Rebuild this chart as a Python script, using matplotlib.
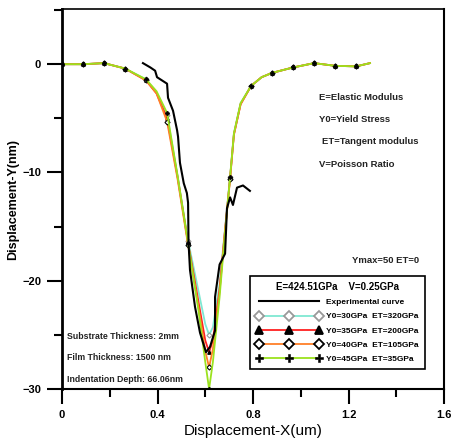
import matplotlib
matplotlib.use("Agg")
import matplotlib.pyplot as plt
from matplotlib.lines import Line2D
from matplotlib.ticker import MultipleLocator

plt.rcParams['font.family'] = ['Liberation Sans', 'DejaVu Sans']

# simulated curves (shared x grid)
x_sim = [0, 0.088, 0.176, 0.264, 0.352, 0.396, 0.44, 0.484, 0.528, 0.572, 0.60,
         0.616, 0.632, 0.66, 0.68, 0.704, 0.72, 0.748, 0.792, 0.836, 0.88, 0.968,
         1.056, 1.144, 1.232, 1.29]
y_cyan = [0, 0, 0.1, -0.4, -1.4, -2.6, -4.7, -10.3, -16.3, -21.0, -24.0, -25.0,
          -24.3, -20.3, -15.8, -10.4, -6.4, -3.6, -2.0, -1.2, -0.8, -0.3, 0.1,
          -0.15, -0.2, 0.1]
y_red = [0, 0, 0.1, -0.4, -1.5, -2.7, -5.0, -10.4, -16.5, -22.0, -25.5, -26.6,
         -25.5, -20.8, -16.0, -10.5, -6.5, -3.7, -2.0, -1.2, -0.8, -0.3, 0.1,
         -0.15, -0.2, 0.1]
y_orange = [0, 0, 0.1, -0.4, -1.5, -2.7, -5.3, -10.6, -16.7, -22.5, -26.5, -28.0,
            -26.3, -21.0, -16.0, -10.6, -6.5, -3.7, -2.0, -1.2, -0.8, -0.3, 0.1,
            -0.15, -0.2, 0.1]
y_green = [0, 0, 0.1, -0.4, -1.4, -2.5, -4.5, -10.3, -16.5, -22.8, -27.5, -30.0,
           -27.5, -21.5, -16.3, -10.4, -6.4, -3.6, -2.0, -1.2, -0.8, -0.3, 0.1,
           -0.15, -0.2, 0.1]
mark_idx = [0, 1, 2, 3, 4, 6, 8, 11, 15, 18, 20, 21, 22, 23, 24]

# experimental curve
x_exp = [0.339, 0.37, 0.390, 0.398, 0.440, 0.444, 0.465, 0.482, 0.486, 0.494,
         0.51, 0.523, 0.528, 0.530, 0.536, 0.557, 0.578, 0.603, 0.620, 0.641,
         0.641, 0.66, 0.683, 0.691, 0.704, 0.716, 0.733, 0.758, 0.787]
y_exp = [0.1, -0.3, -0.6, -1.2, -1.8, -3.1, -4.3, -6.1, -6.7, -9.1,
         -11.0, -11.9, -12.8, -16.5, -19.0, -22.4, -24.8, -26.6, -26.1, -24.6,
         -21.5, -18.5, -17.5, -13.3, -12.3, -13.0, -11.4, -11.2, -11.7]

series = [
    (y_cyan, '#7fe8d2', 'D', 'white', '#999999', 'Y0=30GPa  ET=320GPa'),
    (y_red, '#ff2020', '^', 'black', 'black', 'Y0=35GPa  ET=200GPa'),
    (y_orange, '#ff7f27', 'D', 'white', 'black', 'Y0=40GPa  ET=105GPa'),
    (y_green, '#9be21e', 'P', 'black', 'black', 'Y0=45GPa  ET=35GPa'),
]

fig = plt.figure(figsize=(4.51, 4.45), dpi=100)
ax = fig.add_axes([0.1375, 0.1258, 0.847, 0.854])

handles = [Line2D([], [], color='black', lw=1.5)]
labels = ['Experimental curve']
for ys, col, mk, fc, ec, lab in series:
    ax.plot(x_sim, ys, color=col, lw=1.3, marker=mk, markersize=2.6,
            markerfacecolor=fc, markeredgecolor=ec, markeredgewidth=0.8,
            markevery=mark_idx)
    handles.append(Line2D([], [], color=col, lw=1.3, marker=mk, markersize=5.5,
                          markerfacecolor=fc, markeredgecolor=ec,
                          markeredgewidth=1.3 if mk != 'P' else 0.4))
    labels.append(lab)

ax.plot(x_exp, y_exp, color='black', lw=1.5)

ax.set_xlim(0, 1.6)
ax.set_ylim(-30, 5.1)
ax.xaxis.set_major_locator(MultipleLocator(0.4))
ax.xaxis.set_minor_locator(MultipleLocator(0.2))
ax.yaxis.set_major_locator(MultipleLocator(10))
ax.yaxis.set_minor_locator(MultipleLocator(5))
ax.set_xticks([0, 0.4, 0.8, 1.2, 1.6])
ax.set_xticklabels(['0', '0.4', '0.8', '1.2', '1.6'])
ax.tick_params(which='major', direction='out', length=11, width=1.5,
               labelsize=8, pad=4)
ax.tick_params(which='minor', direction='out', length=6, width=1.5)
for lbl in ax.get_xticklabels() + ax.get_yticklabels():
    lbl.set_fontweight('bold')
ax.spines['left'].set_linewidth(2)
ax.spines['bottom'].set_linewidth(1.5)
ax.spines['right'].set_linewidth(1.5)
ax.spines['top'].set_linewidth(1.2)

ax.set_xlabel('Displacement-X(um)', fontsize=11, labelpad=3)
ax.set_ylabel('Displacement-Y(nm)', fontsize=9, fontweight='bold', labelpad=2)

for txt, xx, yy in [('E=Elastic Modulus', 0.673, 0.768),
                    ('Y0=Yield Stress', 0.673, 0.708),
                    ('ET=Tangent modulus', 0.681, 0.650),
                    ('V=Poisson Ratio', 0.673, 0.592),
                    ('Ymax=50 ET=0', 0.759, 0.339)]:
    ax.text(xx, yy, txt, transform=ax.transAxes, fontsize=6.8,
            fontweight='semibold', va='center', ha='left', color='#222222')

for txt, yy in [('Substrate Thickness: 2mm', 0.139),
                ('Film Thickness: 1500 nm', 0.082),
                ('Indentation Depth: 66.06nm', 0.024)]:
    ax.text(0.013, yy, txt, transform=ax.transAxes, fontsize=6.3,
            fontweight='bold', va='center', ha='left', color='#222222')

leg = ax.legend(handles, labels, title='E=424.51GPa    V=0.25GPa',
                loc='lower right', bbox_to_anchor=(0.96, 0.043),
                fontsize=6, title_fontsize=7, numpoints=3, handlelength=7.8,
                handletextpad=0.6, labelspacing=0.75, borderpad=0.7,
                fancybox=False, edgecolor='black', framealpha=1)
leg.get_frame().set_linewidth(1.2)
leg.get_title().set_fontweight('bold')
for t in leg.get_texts():
    t.set_fontweight('bold')

fig.savefig('out.png', dpi=100)
